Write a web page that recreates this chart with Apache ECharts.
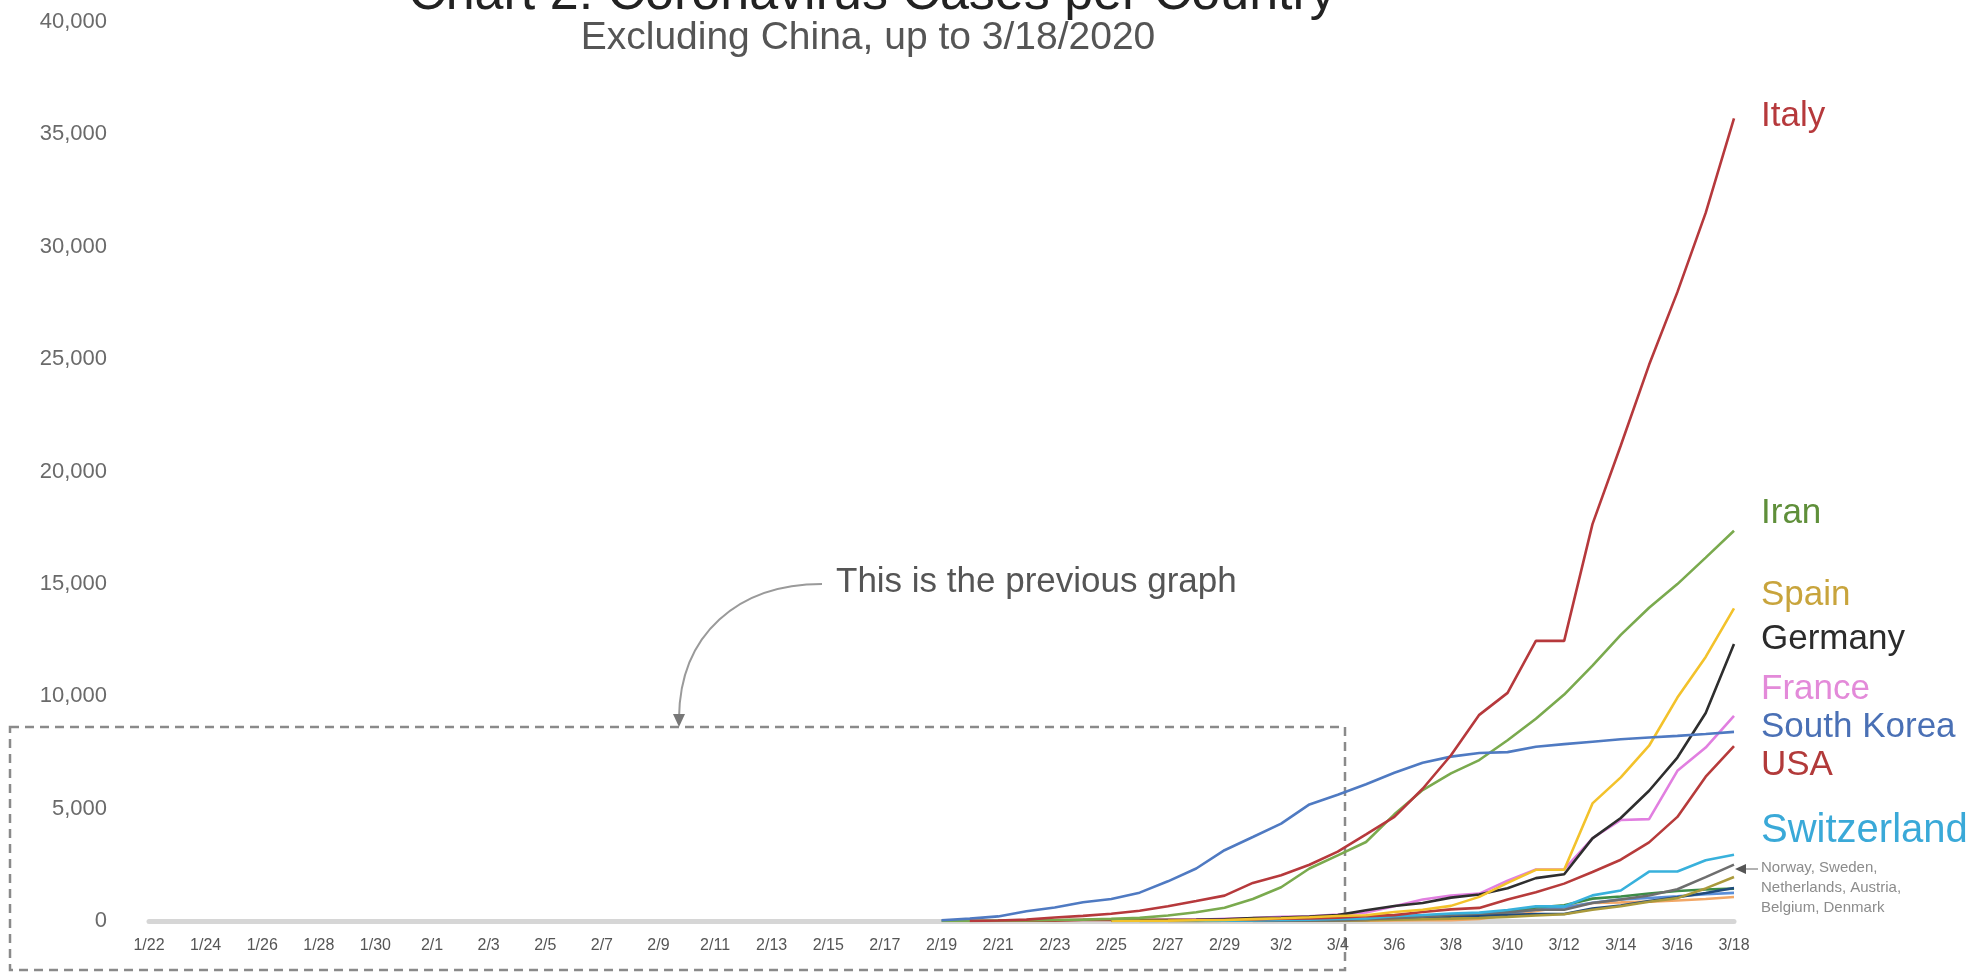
<!DOCTYPE html>
<html><head><meta charset="utf-8">
<script src="https://cdn.jsdelivr.net/npm/echarts@6/dist/echarts.min.js"></script>
<style>html,body{margin:0;padding:0;background:#fff}#c{width:1975px;height:975px}</style>
</head><body><div id="c"></div>
<script>
const dates = ['1/22','1/23','1/24','1/25','1/26','1/27','1/28','1/29','1/30','1/31',
'2/1','2/2','2/3','2/4','2/5','2/6','2/7','2/8','2/9','2/10','2/11','2/12','2/13','2/14','2/15','2/16','2/17','2/18','2/19','2/20','2/21','2/22','2/23','2/24','2/25','2/26','2/27','2/28','2/29',
'3/1','3/2','3/3','3/4','3/5','3/6','3/7','3/8','3/9','3/10','3/11','3/12','3/13','3/14','3/15','3/16','3/17','3/18'];

const yMin = 0, yMax = 40000, yStep = 5000;

// values start at the first date where each line is visible
const southKoreaStart = '2/19';
const southKorea = [31,104,204,433,602,833,977,1261,1766,2337,3150,3736,4335,5186,5621,6088,6593,7041,7314,7478,7513,7755,7869,7979,8086,8162,8236,8320,8413];
const italyStart = '2/20';
const italy = [3,20,62,155,229,322,453,655,888,1128,1694,2036,2502,3089,3858,4636,5883,7375,9172,10149,12462,12462,17660,21157,24747,27980,31506,35713];
const iranStart = '2/19';
const iran = [2,5,18,28,43,61,95,139,245,388,593,978,1501,2336,2922,3513,4747,5823,6566,7161,8042,9000,10075,11364,12729,13938,14991,16169,17361];
const spainStart = '2/25';
const spain = [6,13,15,32,45,84,120,165,222,259,400,500,673,1073,1695,2277,2277,5232,6391,7798,9942,11748,13910];
const germanyStart = '2/25';
const germany = [17,27,46,48,79,130,159,196,262,482,670,799,1040,1176,1457,1908,2078,3675,4585,5795,7272,9257,12327];
const franceStart = '2/25';
const france = [14,18,38,57,100,130,191,204,288,380,656,959,1136,1219,1794,2293,2293,3681,4496,4532,6683,7715,9124];
const usaStart = '2/21';
const usa = [15,15,15,51,51,57,58,60,68,74,98,118,149,217,262,402,518,583,959,1281,1663,2179,2727,3499,4632,6421,7783];
const switzerlandStart = '2/25';
const switzerland = [1,1,8,8,18,27,42,56,90,114,214,268,337,374,491,652,652,1139,1359,2200,2200,2700,2950];
const netherlandsStart = '2/27';
const netherlands = [1,1,6,10,18,24,38,82,128,188,265,321,382,503,503,804,959,1135,1413,1950,2510];
const austriaStart = '2/25';
const austria = [2,2,3,3,9,14,18,21,29,41,55,79,104,131,182,246,302,504,655,860,1018,1450,1960];
const belgiumStart = '3/1';
const belgium = [2,8,13,23,50,109,169,200,239,267,314,314,559,689,886,1058,1243,1470];
const norwayStart = '2/26';
const norway = [1,1,6,15,19,25,32,56,87,108,147,176,205,400,598,702,996,1090,1221,1333,1400,1440];
const denmarkStart = '2/27';
const denmark = [1,1,3,4,4,6,11,15,23,31,37,90,262,442,615,801,827,864,914,977,1070];
const swedenStart = '2/26';
const sweden = [2,7,7,12,14,15,21,35,94,101,161,203,248,355,500,599,814,961,1022,1103,1190,1250];

function pad(start, vals){ const i = dates.indexOf(start); return dates.map((d,k)=> k<i ? null : (vals[k-i] === undefined ? null : vals[k-i])); }

const seriesDefs = [
  ['Denmark', denmarkStart, denmark, '#f2a766'],
  ['Sweden', swedenStart, sweden, '#5b8fd9'],
  ['Norway', norwayStart, norway, '#3d8c47'],
  ['Belgium', belgiumStart, belgium, '#1f4a7c'],
  ['Austria', austriaStart, austria, '#aa9a3c'],
  ['Netherlands', netherlandsStart, netherlands, '#6e6e6e'],
  ['Switzerland', switzerlandStart, switzerland, '#38b1dc'],
  ['USA', usaStart, usa, '#b73b3b'],
  ['France', franceStart, france, '#e17fe0'],
  ['Germany', germanyStart, germany, '#2e2e2e'],
  ['Spain', spainStart, spain, '#f3c22b'],
  ['Iran', iranStart, iran, '#7aaa4e'],
  ['South Korea', southKoreaStart, southKorea, '#4f7ac2'],
  ['Italy', italyStart, italy, '#b6393c']
];

const F = "'Liberation Sans', Arial, Helvetica, sans-serif";
function label(text, x, y, size, color){
  return {type:'text', x:x, y:y, z:10, style:{text:text, fontSize:size, fontFamily:F, fill:color, textAlign:'left', textVerticalAlign:'middle'}};
}

const chart = echarts.init(document.getElementById('c'));
chart.setOption({
  animation:false,
  backgroundColor:'#fff',
  grid:{left:149, right:241, top:22, bottom:54},
  xAxis:{type:'category', data:dates, boundaryGap:false,
    axisLine:{lineStyle:{color:'#d6d6d6', width:5}},
    axisTick:{show:false},
    axisLabel:{interval:1, color:'#555', fontSize:16, fontFamily:F, margin:17},
    splitLine:{show:false}},
  yAxis:{type:'value', min:yMin, max:yMax, interval:yStep,
    axisLine:{show:false}, axisTick:{show:false}, splitLine:{show:false},
    axisLabel:{color:'#6a6a6a', fontSize:22, fontFamily:F, margin:42,
      formatter:v=>v.toLocaleString('en-US')}},
  series: seriesDefs.map(s=>({name:s[0], type:'line', data:pad(s[1], s[2]), symbol:'none',
    lineStyle:{color:s[3], width:2.6}, itemStyle:{color:s[3]}})),
  graphic:[
    {type:'text', x:872, y:-5, style:{text:'Chart 2: Coronavirus Cases per Country', fontSize:52, fontFamily:F, fill:'#222', textAlign:'center', textVerticalAlign:'middle'}},
    {type:'text', x:868, y:38, style:{text:'Excluding China, up to 3/18/2020', fontSize:39, fontFamily:F, fill:'#555', textAlign:'center', textVerticalAlign:'middle'}},
    {type:'rect', shape:{x:10, y:727, width:1335, height:243}, style:{fill:null, stroke:'#8a8a8a', lineWidth:2.5, lineDash:[9,6]}},
    {type:'text', x:836, y:582, style:{text:'This is the previous graph', fontSize:35, fontFamily:F, fill:'#555', textAlign:'left', textVerticalAlign:'middle'}},
    {type:'bezierCurve', shape:{x1:822, y1:584, cpx1:738, cpy1:584, cpx2:680, cpy2:634, x2:679, y2:718}, style:{fill:null, stroke:'#9a9a9a', lineWidth:2}},
    {type:'polygon', shape:{points:[[673,714],[685,714],[679,727]]}, style:{fill:'#777'}},
    label('Italy', 1761, 116, 35, '#b6393c'),
    label('Iran', 1761, 513, 35, '#5f8f3a'),
    label('Spain', 1761, 595, 35, '#c8a43c'),
    label('Germany', 1761, 639, 35, '#2b2b2b'),
    label('France', 1761, 689, 35, '#e38ad9'),
    label('South Korea', 1761, 727, 35, '#4a70b5'),
    label('USA', 1761, 765, 35, '#b23a3a'),
    label('Switzerland', 1761, 831, 40, '#3aa9d8'),
    {type:'text', x:1761, y:858, style:{text:'Norway, Sweden,\nNetherlands, Austria,\nBelgium, Denmark', fontSize:15, lineHeight:20, fontFamily:F, fill:'#8c8c8c', textAlign:'left', textVerticalAlign:'top'}},
    {type:'polygon', shape:{points:[[1735,869],[1746,864],[1746,874]]}, style:{fill:'#555'}},
    {type:'line', shape:{x1:1746, y1:869, x2:1758, y2:869}, style:{stroke:'#999', lineWidth:1.5}}
  ]
});
</script></body></html>
